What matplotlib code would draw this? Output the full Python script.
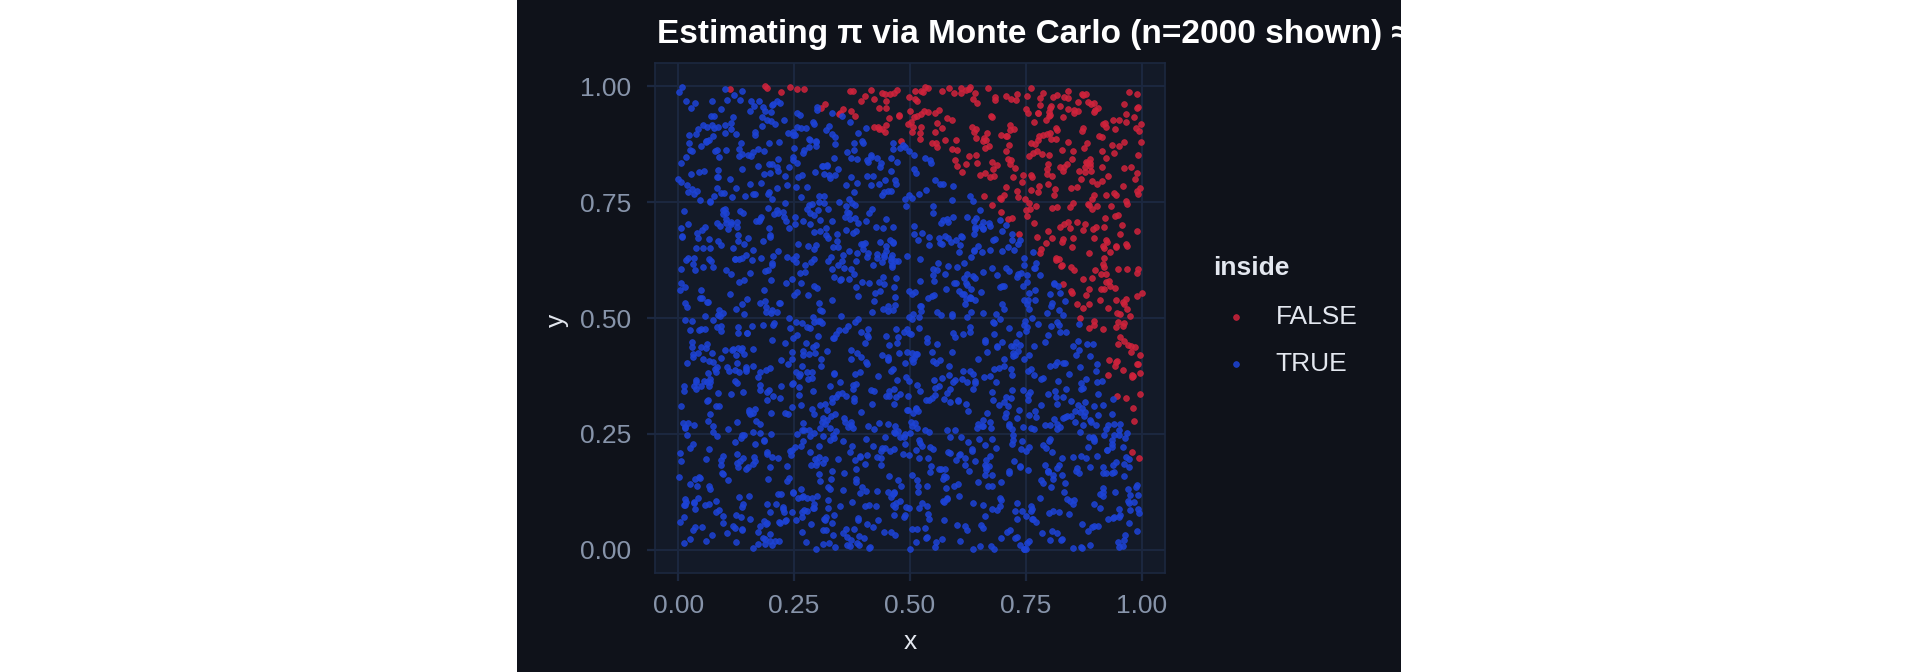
import numpy as np
import matplotlib
matplotlib.use("Agg")
import matplotlib.pyplot as plt
from matplotlib.patches import Rectangle
from matplotlib.transforms import Bbox, TransformedBbox

plt.rcParams['font.family'] = ['Liberation Sans', 'DejaVu Sans']

# The reference is a Monte Carlo sample: 2000 points in the unit square.
# Individual points cannot be read off the picture, so a fixed seed stands in.
n_points = 2000
rng = np.random.default_rng(7)
x = rng.uniform(0, 1, n_points)
y = rng.uniform(0, 1, n_points)
inside = x**2 + y**2 <= 1
pi_est = 4 * inside.mean()

tick_values = [0.0, 0.25, 0.5, 0.75, 1.0]
tick_labels = ["0.00", "0.25", "0.50", "0.75", "1.00"]
groups = ["FALSE", "TRUE"]
group_colors = {"FALSE": "#d0233c", "TRUE": "#1d43d6"}

bg_dark = "#0f121a"
panel_bg = "#131a28"
grid_col = "#1c2840"
tick_col = "#8794aa"
text_col = "#e3e7ef"

W, H = 1920, 672
fig = plt.figure(figsize=(W / 100, H / 100), dpi=100, facecolor="white")

# dark plot background (only part of the canvas)
bg = Rectangle((517 / W, 0), (1401 - 517) / W, 1, transform=fig.transFigure,
               facecolor=bg_dark, edgecolor="none", zorder=-5)
fig.patches.append(bg)

ax = fig.add_axes([655 / W, 1 - 573 / H, 510 / W, 510 / H])
ax.set_zorder(2)
ax.set_facecolor(panel_bg)

for g in groups:
    mask = inside if g == "TRUE" else ~inside
    ax.scatter(x[mask], y[mask], s=17, color=group_colors[g], alpha=0.85,
               edgecolors=group_colors[g], linewidths=0.6, label=g, zorder=3)

ax.set_xlim(-0.05, 1.05)
ax.set_ylim(-0.05, 1.05)
ax.set_xticks(tick_values)
ax.set_xticklabels(tick_labels)
ax.set_yticks(tick_values)
ax.set_yticklabels(tick_labels)
ax.grid(True, color=grid_col, linewidth=1.4, zorder=1)
ax.set_axisbelow(True)
ax.tick_params(axis="both", colors=grid_col, labelcolor=tick_col, labelsize=19,
               length=6, width=1.6)
ax.tick_params(axis="x", pad=9)
ax.tick_params(axis="y", pad=11)
for sp in ax.spines.values():
    sp.set_color(grid_col)
    sp.set_linewidth(1.2)

fig.text(910 / W, 1 - 649 / H, "x", color=text_col, fontsize=19,
         ha="center", va="baseline", zorder=3)
fig.text(557 / W, 1 - 320 / H, "y", color=text_col, fontsize=19,
         ha="center", va="center", rotation=90, zorder=3)

title = fig.text(657 / W, 1 - 42.5 / H,
                 f"Estimating π via Monte Carlo (n={n_points} shown) ≈ {pi_est:.4f}",
                 color="white", fontsize=24, fontweight="bold",
                 ha="left", va="baseline", zorder=3)
title.set_clip_box(TransformedBbox(Bbox([[517 / W, 0], [1401 / W, 1]]),
                                   fig.transFigure))
title.set_clip_on(True)

# legend: title as its own text, entries from the scatter handles
fig.text(1213 / W, 1 - 275 / H, "inside", color=text_col, fontsize=19,
         fontweight="bold", ha="left", va="baseline", zorder=3)
leg = ax.legend(loc="upper left", bbox_to_anchor=(1213 / W, 1 - 305 / H),
                bbox_transform=fig.transFigure, frameon=False,
                fontsize=19, borderpad=0, borderaxespad=0, handlelength=1.74,
                handletextpad=0.64, labelspacing=0.865, markerscale=1.0)
for t in leg.get_texts():
    t.set_color(text_col)

fig.savefig("out.png", dpi=100, facecolor="white")
